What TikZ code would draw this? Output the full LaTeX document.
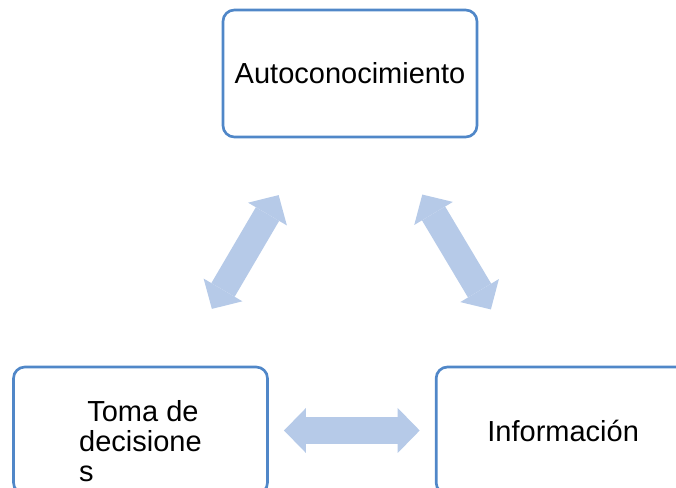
\documentclass[tikz,border=0pt]{standalone}
\usepackage{fontspec}
\setmainfont{Liberation Sans}
\usetikzlibrary{positioning,arrows.meta}
\definecolor{borde}{RGB}{80,135,200}
\definecolor{flecha}{RGB}{182,202,232}

\begin{document}
\begin{tikzpicture}[x=0.75pt, y=-0.75pt, node distance=124.5pt]
    \tikzset{caja/.style={draw=borde, line width=2pt, rounded corners=8.5pt, minimum width=190.5pt, minimum height=95.25pt, inner sep=0pt, font=\fontsize{21.75}{22.5}\selectfont}}
    \tikzset{enlace/.style={color=flecha, line width=20.25pt, {Triangle[length=16.5pt, width=33.75pt, line width=0pt, fill=flecha]}-{Triangle[length=16.5pt, width=33.75pt, line width=0pt, fill=flecha]}, shorten <=105.75pt, shorten >=105.75pt}}
    \useasboundingbox (0,0) rectangle (676,488);
    \clip (0,0) rectangle (676,488);
    \node[caja] (auto) at (350,73.5) {Autoconocimiento};
    \node[caja] (toma) at (140.5,430.5) {};
    \node[caja, right=of toma] (info) {Información};
    \node[align=left, font=\fontsize{21.75}{22.5}\selectfont, yshift=-8.25pt] (tomatxt) at (toma.center) {\ Toma de\\decisione\\s};
    \path[enlace]
        (auto.center) edge (toma.center)
                      edge (info.center)
        (toma.center) edge [shorten <=107.6pt, shorten >=107.6pt] (info.center);
\end{tikzpicture}
\end{document}
